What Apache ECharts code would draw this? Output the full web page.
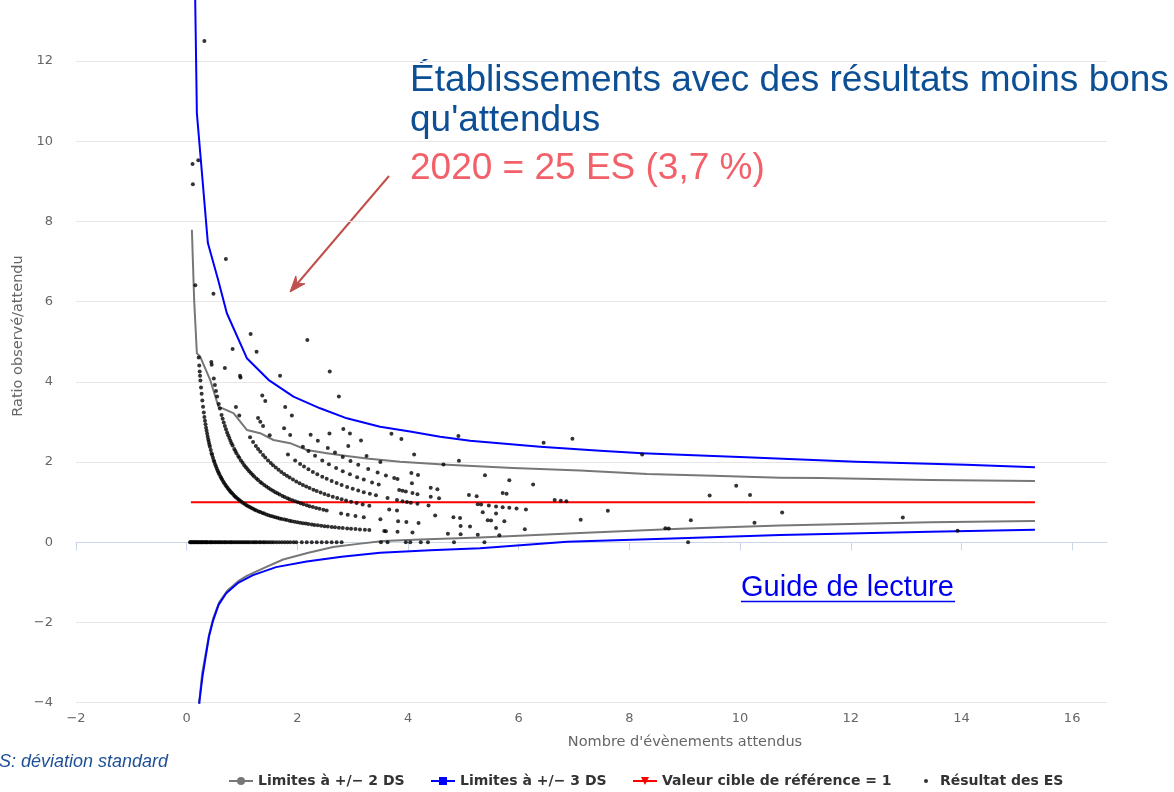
<!DOCTYPE html>
<html>
<head>
<meta charset="utf-8">
<script src="https://cdn.jsdelivr.net/npm/echarts@6/dist/echarts.min.js"></script>
<style>
html,body{margin:0;padding:0;background:#ffffff;}
#main{width:1174px;height:792px;}
</style>
</head>
<body>
<div id="main"></div>
<script>
// ---- Axis ticks ----
const xTickValues = [-2, 0, 2, 4, 6, 8, 10, 12, 14, 16];
const yTickValues = [-4, -2, 0, 2, 4, 6, 8, 10, 12];

// ---- Control limits [expected events, ratio] ----
const upper3DS = [[0.152,14.0],[0.154,13.52],[0.184,10.70],[0.383,7.46],[0.569,6.54],[0.726,5.71],[1.087,4.59],[1.478,4.05],[1.929,3.63],[2.411,3.34],[2.894,3.09],[3.495,2.88],[4.037,2.76],[4.579,2.63],[5.121,2.53],[6.386,2.38],[7.470,2.28],[8.229,2.22],[10.108,2.12],[12.094,2.01],[14.081,1.93],[15.328,1.87]];
const upper2DS = [[0.094,7.79],[0.135,6.04],[0.184,4.71],[0.244,4.63],[0.424,4.05],[0.574,3.38],[0.845,3.22],[1.087,2.80],[1.328,2.72],[1.568,2.55],[1.870,2.47],[2.171,2.30],[2.533,2.22],[2.894,2.15],[3.255,2.09],[3.857,2.01],[4.706,1.93],[5.898,1.85],[7.108,1.79],[8.319,1.70],[9.511,1.66],[10.721,1.61],[11.443,1.60],[13.430,1.55],[15.328,1.53]];
const lower2DS = [[0.22,-4.3],[0.229,-3.975],[0.28,-3.27],[0.334,-2.85],[0.406,-2.3],[0.479,-1.9],[0.587,-1.5],[0.732,-1.21],[0.93,-0.97],[1.087,-0.84],[1.4,-0.64],[1.743,-0.43],[2.2,-0.26],[2.646,-0.12],[3.1,-0.04],[3.549,0.03],[4.218,0.07],[5.302,0.12],[7.108,0.23],[8.914,0.34],[10.721,0.42],[13.430,0.50],[15.328,0.53]];
const lower3DS = [[0.22,-4.3],[0.229,-3.975],[0.285,-3.35],[0.334,-2.93],[0.403,-2.35],[0.471,-1.98],[0.576,-1.56],[0.714,-1.27],[0.921,-1.02],[1.199,-0.82],[1.615,-0.62],[2.168,-0.48],[2.8,-0.36],[3.495,-0.26],[4.4,-0.2],[5.302,-0.15],[6.874,0.01],[8.914,0.10],[10.721,0.18],[13.430,0.26],[15.328,0.31]];
const targetLine = [[0.076,1],[15.328,1]];

// ---- Establishments: expected events, grouped by observed events ----
const esObs0 = [0.06,0.07,0.09,0.1,0.12,0.14,0.15,0.17,0.19,0.2,0.22,0.24,0.26,0.27,0.29,0.31,0.33,0.35,0.36,0.38,0.41,0.43,0.45,0.47,0.5,0.52,0.55,0.57,0.6,0.62,0.65,0.68,0.7,0.73,0.76,0.79,0.81,0.84,0.87,0.9,0.93,0.96,0.99,1.02,1.05,1.08,1.11,1.14,1.18,1.21,1.24,1.27,1.31,1.34,1.38,1.41,1.45,1.49,1.53,1.57,1.62,1.67,1.72,1.77,1.82,1.87,1.93,1.98,2.08,2.17,2.26,2.35,2.44,2.53,2.62,2.71,2.8,3.51,3.63,3.96,4.04,4.23,4.36,4.83,5.38,9.06];
const esObs1 = [0.106,0.112,0.156,0.217,0.227,0.235,0.241,0.248,0.259,0.27,0.283,0.296,0.309,0.32,0.33,0.34,0.35,0.36,0.37,0.38,0.39,0.4,0.41,0.42,0.435,0.45,0.46,0.475,0.49,0.5,0.515,0.53,0.545,0.56,0.575,0.59,0.61,0.625,0.64,0.66,0.68,0.7,0.72,0.74,0.76,0.78,0.8,0.82,0.845,0.87,0.89,0.915,0.94,0.965,0.99,1.02,1.05,1.08,1.11,1.14,1.17,1.2,1.23,1.26,1.3,1.33,1.37,1.4,1.44,1.48,1.52,1.56,1.6,1.64,1.68,1.72,1.77,1.81,1.86,1.9,1.95,2.0,2.05,2.1,2.15,2.2,2.26,2.31,2.37,2.43,2.49,2.55,2.62,2.68,2.75,2.82,2.9,2.97,3.05,3.13,3.22,3.3,3.57,3.6,3.81,4.08,4.72,4.95,5.26,5.65];
const esObs2 = [0.21,0.445,0.452,0.49,0.51,0.53,0.55,0.58,0.6,0.63,0.65,0.67,0.69,0.71,0.73,0.75,0.77,0.79,0.81,0.83,0.86,0.88,0.9,0.93,0.95,0.98,1.01,1.04,1.07,1.1,1.13,1.16,1.19,1.22,1.26,1.29,1.33,1.36,1.4,1.44,1.48,1.52,1.56,1.6,1.64,1.68,1.73,1.77,1.82,1.86,1.91,1.96,2.01,2.06,2.11,2.17,2.22,2.28,2.34,2.4,2.47,2.53,2.79,2.91,3.05,3.2,3.5,3.82,3.97,4.19,4.95,5.12,5.59,6.11];
const esObs3 = [0.484,0.69,0.89,0.95,1.145,1.2,1.25,1.29,1.33,1.38,1.42,1.47,1.52,1.56,1.61,1.66,1.71,1.76,1.81,1.86,1.92,1.98,2.04,2.1,2.16,2.22,2.29,2.35,2.42,2.49,2.56,2.64,2.72,2.8,2.88,2.97,3.07,3.18,3.3,3.66,3.8,4.49,4.82,4.94,5.44,5.5,5.74,8.65,8.71];
const esObs4 = [0.32,0.83,0.964,0.973,1.29,1.33,1.38,1.5,1.83,1.96,2.05,2.12,2.2,2.28,2.36,2.45,2.53,2.62,2.71,2.8,2.9,3.0,3.1,3.2,3.31,3.42,3.63,3.8,3.9,3.98,4.05,4.17,4.37,5.35,5.59,7.12,13.93];
const esObs5 = [0.708,1.366,1.42,1.76,1.87,2.1,2.2,2.32,2.45,2.57,2.7,2.82,2.95,3.08,3.2,3.35,3.47,3.84,3.9,3.96,4.08,4.17,4.41,4.56,5.26,5.32,5.46,5.59,5.71,5.83,5.96,6.13,9.11,10.26];
const esObs6 = [1.156,1.263,1.78,1.9,2.24,2.37,2.55,2.68,2.82,2.96,3.1,3.28,3.45,3.6,3.75,3.81,4.07,4.41,4.53,5.1,5.24,7.61];
const esObs7 = [1.687,2.58,2.92,3.25,3.5,4.06,4.18,5.71,5.78,6.65,6.76,6.86];
const esObs8 = [2.83,2.95,3.15,10.76,12.94];
// [expected, observed] for establishments with 9 or more observed events
const esObsHigh = [[4.11,9],[4.64,9],[5.39,9],[5.83,9],[6.26,9],[2.75,10],[3.7,10],[3.88,10],[4.92,10],[2.18,11],[2.585,11],[9.45,11],[10.18,12],[4.91,13],[9.93,14],[6.45,16],[6.97,18],[8.23,18]];

// ratio observé / attendu
function toRatio(expectedList, observed) {
  return expectedList.map(function (e) { return [e, observed / e]; });
}
const scatterData = [].concat(
  toRatio(esObs0, 0), toRatio(esObs1, 1), toRatio(esObs2, 2), toRatio(esObs3, 3),
  toRatio(esObs4, 4), toRatio(esObs5, 5), toRatio(esObs6, 6), toRatio(esObs7, 7),
  toRatio(esObs8, 8),
  esObsHigh.map(function (p) { return [p[0], p[1] / p[0]]; })
);

const FONT = 'DejaVu Sans';
function fmt(v) { return v < 0 ? '\u2212' + Math.abs(v) : String(v); }

const chart = echarts.init(document.getElementById('main'), null, {renderer: 'canvas'});

const legendText = {color: '#333333', fontWeight: 'bold', fontSize: 14, fontFamily: FONT};
function legendFor(name, left, w, h) {
  return {data: [name], left: left, top: 774, itemWidth: w, itemHeight: h, padding: 0,
          itemGap: 0, textStyle: legendText, selectedMode: false};
}
const limitLine = function (name, data, color, symbol, z) {
  return {name: name, type: 'line', data: data, symbol: symbol, showSymbol: false,
          color: color, lineStyle: {color: color, width: 2, join: 'round'}, z: z};
};

const option = {
  animation: false,
  backgroundColor: '#ffffff',
  grid: {left: 76, right: 67, top: 0, bottom: 89.3, containLabel: false},
  xAxis: {
    type: 'value', min: -2, max: 16.63, interval: 2,
    axisLine: {show: true, lineStyle: {color: '#ccd6eb', width: 1}},
    axisTick: {show: true, length: 8, lineStyle: {color: '#ccd6eb'}, customValues: xTickValues},
    axisLabel: {customValues: xTickValues, color: '#666666', fontSize: 13, fontFamily: FONT, margin: 9, formatter: fmt},
    splitLine: {show: false}
  },
  yAxis: {
    type: 'value', min: -4, max: 13.52, interval: 2,
    axisLine: {show: false}, axisTick: {show: false},
    axisLabel: {color: '#666666', fontSize: 13, fontFamily: FONT, margin: 23, showMaxLabel: false,
      formatter: function (v) { return yTickValues.indexOf(v) >= 0 ? fmt(v) : ''; }},
    splitLine: {show: true, showMaxLine: false, lineStyle: {color: '#e6e6e6', width: 1}}
  },
  legend: [
    legendFor('Limites à +/− 2 DS', 228, 24, 10),
    legendFor('Limites à +/− 3 DS', 430, 24, 10),
    legendFor('Valeur cible de référence = 1', 632, 24, 10),
    legendFor('Résultat des ES', 924, 18, 4)
  ],
  series: [
    limitLine('Limites à +/− 2 DS', upper2DS, '#777777', 'circle', 2),
    limitLine('Limites à +/− 2 DS', lower2DS, '#777777', 'circle', 2),
    limitLine('Limites à +/− 3 DS', upper3DS, '#0000ff', 'rect', 3),
    limitLine('Limites à +/− 3 DS', lower3DS, '#0000ff', 'rect', 3),
    {name: 'Valeur cible de référence = 1', type: 'line', data: targetLine, symbol: 'triangle', symbolRotate: 180,
     showSymbol: false, color: '#ff0000', lineStyle: {color: '#ff0000', width: 2}, z: 3},
    {name: 'Résultat des ES', type: 'scatter', data: scatterData, symbol: 'circle', symbolSize: 4,
     itemStyle: {color: '#000000'}, z: 4}
  ],
  graphic: [
    {type: 'text', x: 18.5, y: 336, rotation: Math.PI / 2,
     style: {text: 'Ratio observé/attendu', fill: '#666666', font: '14.5px "DejaVu Sans"', align: 'center', verticalAlign: 'middle'}},
    {type: 'text', x: 685, y: 742,
     style: {text: "Nombre d'évènements attendus", fill: '#666666', font: '14.5px "DejaVu Sans"', align: 'center', verticalAlign: 'middle'}},
    {type: 'text', x: -1, y: 762,
     style: {text: 'S: déviation standard', fill: '#1e5096', font: 'italic 18px "Liberation Sans"', align: 'left', verticalAlign: 'middle'}},
    {type: 'text', x: 410, y: 80.5,
     style: {text: 'Établissements avec des résultats moins bons', fill: '#0d4f94', font: '37px "Liberation Sans"', align: 'left', verticalAlign: 'middle'}},
    {type: 'text', x: 410, y: 120.5,
     style: {text: "qu'attendus", fill: '#0d4f94', font: '37px "Liberation Sans"', align: 'left', verticalAlign: 'middle'}},
    {type: 'text', x: 410, y: 169,
     style: {text: '2020 = 25 ES (3,7 %)', fill: '#f2606a', font: '37px "Liberation Sans"', align: 'left', verticalAlign: 'middle'}},
    {type: 'line', shape: {x1: 389, y1: 176, x2: 297, y2: 284}, style: {stroke: '#c0504d', lineWidth: 2}},
    {type: 'polygon', shape: {points: [[290, 292], [305, 283.7], [297.1, 283.6], [295.8, 275.9]]}, style: {fill: '#c0504d', stroke: '#c0504d', lineWidth: 1}},
    {type: 'text', x: 741, y: 588,
     style: {text: 'Guide de lecture', fill: '#0000ee', font: '29px "Liberation Sans"', align: 'left', verticalAlign: 'middle'}},
    {type: 'line', shape: {x1: 741, y1: 601.5, x2: 955, y2: 601.5}, style: {stroke: '#0000ee', lineWidth: 1.6}}
  ]
};
chart.setOption(option);
</script>
</body>
</html>
